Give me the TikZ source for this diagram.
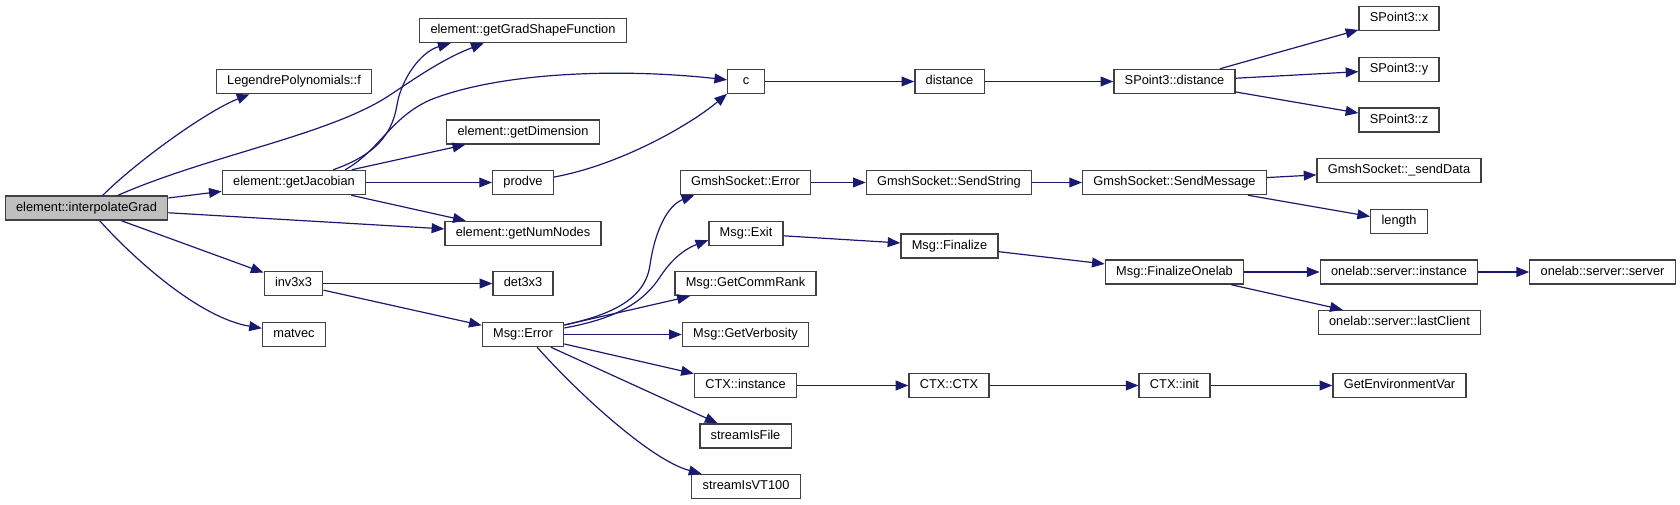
\documentclass[tikz,border=0pt]{standalone}
\usepackage{fontspec}
\setmainfont{Liberation Sans}
\usepackage{tikz}
\usetikzlibrary{arrows.meta}
\definecolor{midnight}{HTML}{191970}

\begin{document}
\begin{tikzpicture}[
    x=0.025cm,y=-0.025cm,
    func/.style={draw=black!75,line width=0.95pt,fill=white,font=\fontsize{9.1}{11}\selectfont,inner xsep=7.7pt,inner ysep=0pt,minimum height=17.2pt,minimum width=26pt,text height=6.7pt,text depth=1.9pt},
    root/.style={func,fill=black!25},
    call/.style={-{Triangle[length=9pt,width=7pt]},draw=midnight,line width=0.85pt}
]
\useasboundingbox (0,0) rectangle (1680,505);

\node[root] (interp) at (86.5,208) {element::interpolateGrad};
\node[func] (legendre) at (294,81.5) {LegendrePolynomials::f};
\node[func] (jacobian) at (294,182.5) {element::getJacobian};
\node[func] (inverse) at (293.5,283.5) {inv3x3};
\node[func] (matvec) at (294,334.5) {matvec};
\node[func] (gradshape) at (523,30.5) {element::getGradShapeFunction};
\node[func] (dimension) at (523,132) {element::getDimension};
\node[func] (prodve) at (523,182.5) {prodve};
\node[func] (numnodes) at (523,233.5) {element::getNumNodes};
\node[func] (det) at (523,283.5) {det3x3};
\node[func] (msgerror) at (523,334.5) {Msg::Error};
\node[func] (c) at (746,81.5) {c};
\node[func] (gmsherror) at (745.5,182.5) {GmshSocket::Error};
\node[func] (msgexit) at (746,233.5) {Msg::Exit};
\node[func] (commrank) at (745.5,283.5) {Msg::GetCommRank};
\node[func] (verbosity) at (745.5,334.5) {Msg::GetVerbosity};
\node[func] (ctxinstance) at (745.5,385.5) {CTX::instance};
\node[func] (streamfile) at (745.5,436) {streamIsFile};
\node[func] (streamvt) at (746,486.5) {streamIsVT100};
\node[func] (distance) at (949.5,81.5) {distance};
\node[func] (sendstring) at (949,182.5) {GmshSocket::SendString};
\node[func] (finalize) at (949.5,246) {Msg::Finalize};
\node[func] (ctxctx) at (949,385.5) {CTX::CTX};
\node[func] (spdistance) at (1174.5,81.5) {SPoint3::distance};
\node[func] (sendmessage) at (1174.5,182.5) {GmshSocket::SendMessage};
\node[func] (finonelab) at (1174.5,272) {Msg::FinalizeOnelab};
\node[func] (ctxinit) at (1174.5,385.5) {CTX::init};
\node[func] (spx) at (1399,18.5) {SPoint3::x};
\node[func] (spy) at (1399,69.5) {SPoint3::y};
\node[func] (spz) at (1399,120) {SPoint3::z};
\node[func] (senddata) at (1399,170.5) {GmshSocket::\_sendData};
\node[func] (length) at (1399,221.5) {length};
\node[func] (olinstance) at (1399,272) {onelab::server::instance};
\node[func] (lastclient) at (1399.5,322.5) {onelab::server::lastClient};
\node[func] (getenv) at (1399.5,385.5) {GetEnvironmentVar};
\node[func] (olserver) at (1602.5,272) {onelab::server::server};

\draw[call] (interp.38) .. controls (135,163) and (205,112) .. (legendre.196);
\draw[call] (interp.22) .. controls (210,155) and (330,135) .. (390,95) .. controls (420,75) and (445,58) .. (gradshape.198);
\draw[call] (interp) -- (jacobian);
\draw[call] (interp) -- (numnodes);
\draw[call] (interp) -- (inverse);
\draw[call] (interp.316) .. controls (135,260) and (200,318) .. (matvec.169);
\draw[call] (jacobian.18) .. controls (375,155) and (392,135) .. (397,105) .. controls (401,80) and (420,52) .. (gradshape.190);
\draw[call] (jacobian.14) .. controls (380,150) and (390,118) .. (430,100) .. controls (500,72) and (620,68) .. (c.175);
\draw[call] (jacobian) -- (dimension);
\draw[call] (jacobian) -- (prodve);
\draw[call] (jacobian) -- (numnodes);
\draw[call] (prodve.10) .. controls (620,165) and (690,125) .. (c.213);
\draw[call] (inverse) -- (det);
\draw[call] (inverse) -- (msgerror);
\draw[call] (c) -- (distance);
\draw[call] (distance) -- (spdistance);
\draw[call] (spdistance) -- (spx);
\draw[call] (spdistance) -- (spy);
\draw[call] (spdistance) -- (spz);
\draw[call] (msgerror.13) .. controls (610,315) and (645,300) .. (650,265) .. controls (655,230) and (668,205) .. (gmsherror.194);
\draw[call] (msgerror.9) .. controls (620,318) and (645,300) .. (660,277) .. controls (675,254) and (690,247) .. (msgexit.190);
\draw[call] (msgerror) -- (commrank);
\draw[call] (msgerror) -- (verbosity);
\draw[call] (msgerror) -- (ctxinstance);
\draw[call] (msgerror) -- (streamfile);
\draw[call] (msgerror.318) .. controls (575,390) and (650,460) .. (streamvt.164);
\draw[call] (gmsherror) -- (sendstring);
\draw[call] (sendstring) -- (sendmessage);
\draw[call] (sendmessage) -- (senddata);
\draw[call] (sendmessage) -- (length);
\draw[call] (msgexit) -- (finalize);
\draw[call] (finalize) -- (finonelab);
\draw[call] (finonelab) -- (olinstance);
\draw[call] (finonelab) -- (lastclient);
\draw[call] (olinstance) -- (olserver);
\draw[call] (ctxinstance) -- (ctxctx);
\draw[call] (ctxctx) -- (ctxinit);
\draw[call] (ctxinit) -- (getenv);
\end{tikzpicture}
\end{document}
